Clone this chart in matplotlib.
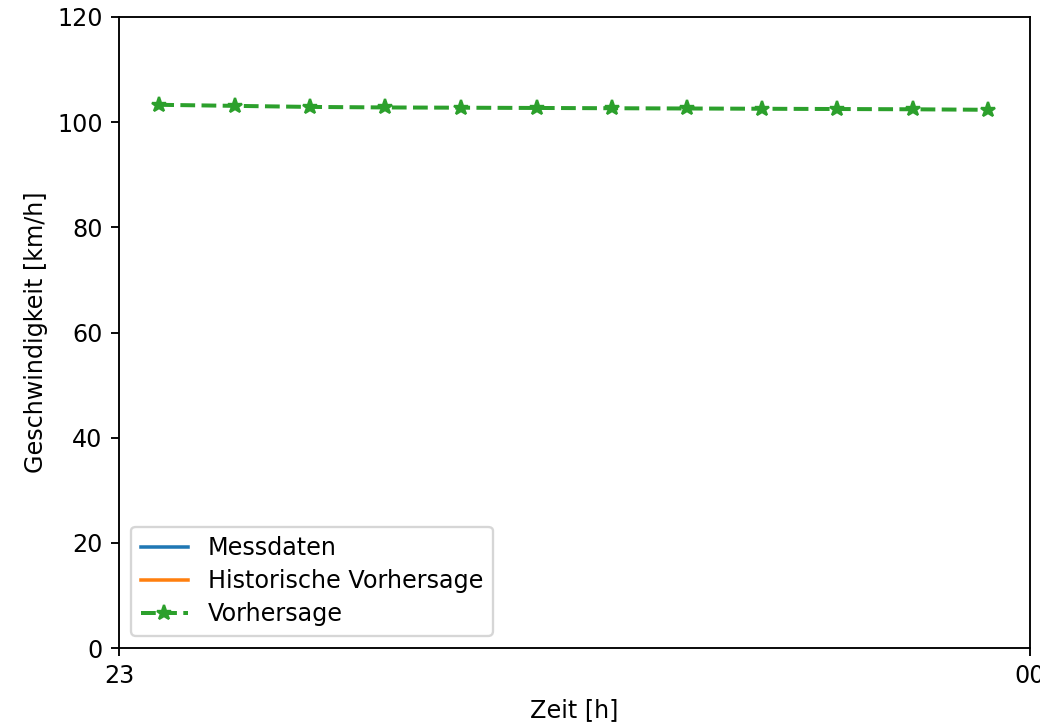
import matplotlib
matplotlib.use("Agg")
import matplotlib.pyplot as plt
import matplotlib.dates as mdates
from matplotlib.transforms import Bbox, TransformedBbox
import pandas as pd

# Forecast time stamps (23:xx) and predicted speeds in km/h
forecast_times = ["23:02:39", "23:07:38", "23:12:35", "23:17:31", "23:22:32", "23:27:32",
                  "23:32:28", "23:37:24", "23:42:20", "23:47:19", "23:52:17", "23:57:16"]
forecast_speed = [103.3, 103.1, 102.9, 102.8, 102.75, 102.7,
                  102.65, 102.6, 102.55, 102.5, 102.45, 102.35]

# Measured and historical series (no samples in this window)
measured_times = []
measured_speed = []
historic_times = []
historic_speed = []

plt.rcParams["font.size"] = 10.2

day = "2021-01-01 "
x_start = pd.Timestamp(day + "23:00:00")
x_end = pd.Timestamp("2021-01-02 00:00:00")
fc_x = pd.to_datetime([day + t for t in forecast_times])

dpi = 169
fig = plt.figure(figsize=(1053 / dpi, 723 / dpi), dpi=dpi)
ax = fig.add_axes([119 / 1053, 1 - 648 / 723, (1030 - 119) / 1053, (648 - 17) / 723])

ax.plot(pd.to_datetime(measured_times), measured_speed, color="C0", label="Messdaten")
ax.plot(pd.to_datetime(historic_times), historic_speed, color="C1", label="Historische Vorhersage")
ax.plot(fc_x, forecast_speed, "--*", color="C2", lw=1.7, ms=6.6, label="Vorhersage")

ax.set_xlim(x_start, x_end)
ax.set_ylim(0, 120)
ax.xaxis.set_major_locator(mdates.HourLocator())
ax.xaxis.set_major_formatter(mdates.DateFormatter("%H"))
ax.set_xlabel("Zeit [h]")
ax.set_ylabel("Geschwindigkeit [km/h]")
ax.legend(loc="lower left", labelspacing=0.38)

# Labels running past the right border are cut off there
clip = TransformedBbox(Bbox([[0, 0], [1040 / 1053, 1]]), fig.transFigure)
fig.canvas.draw()
for lab in ax.get_xticklabels():
    lab.set_clip_box(clip)
    lab.set_clip_on(True)

fig.savefig("out.png", dpi=dpi)
